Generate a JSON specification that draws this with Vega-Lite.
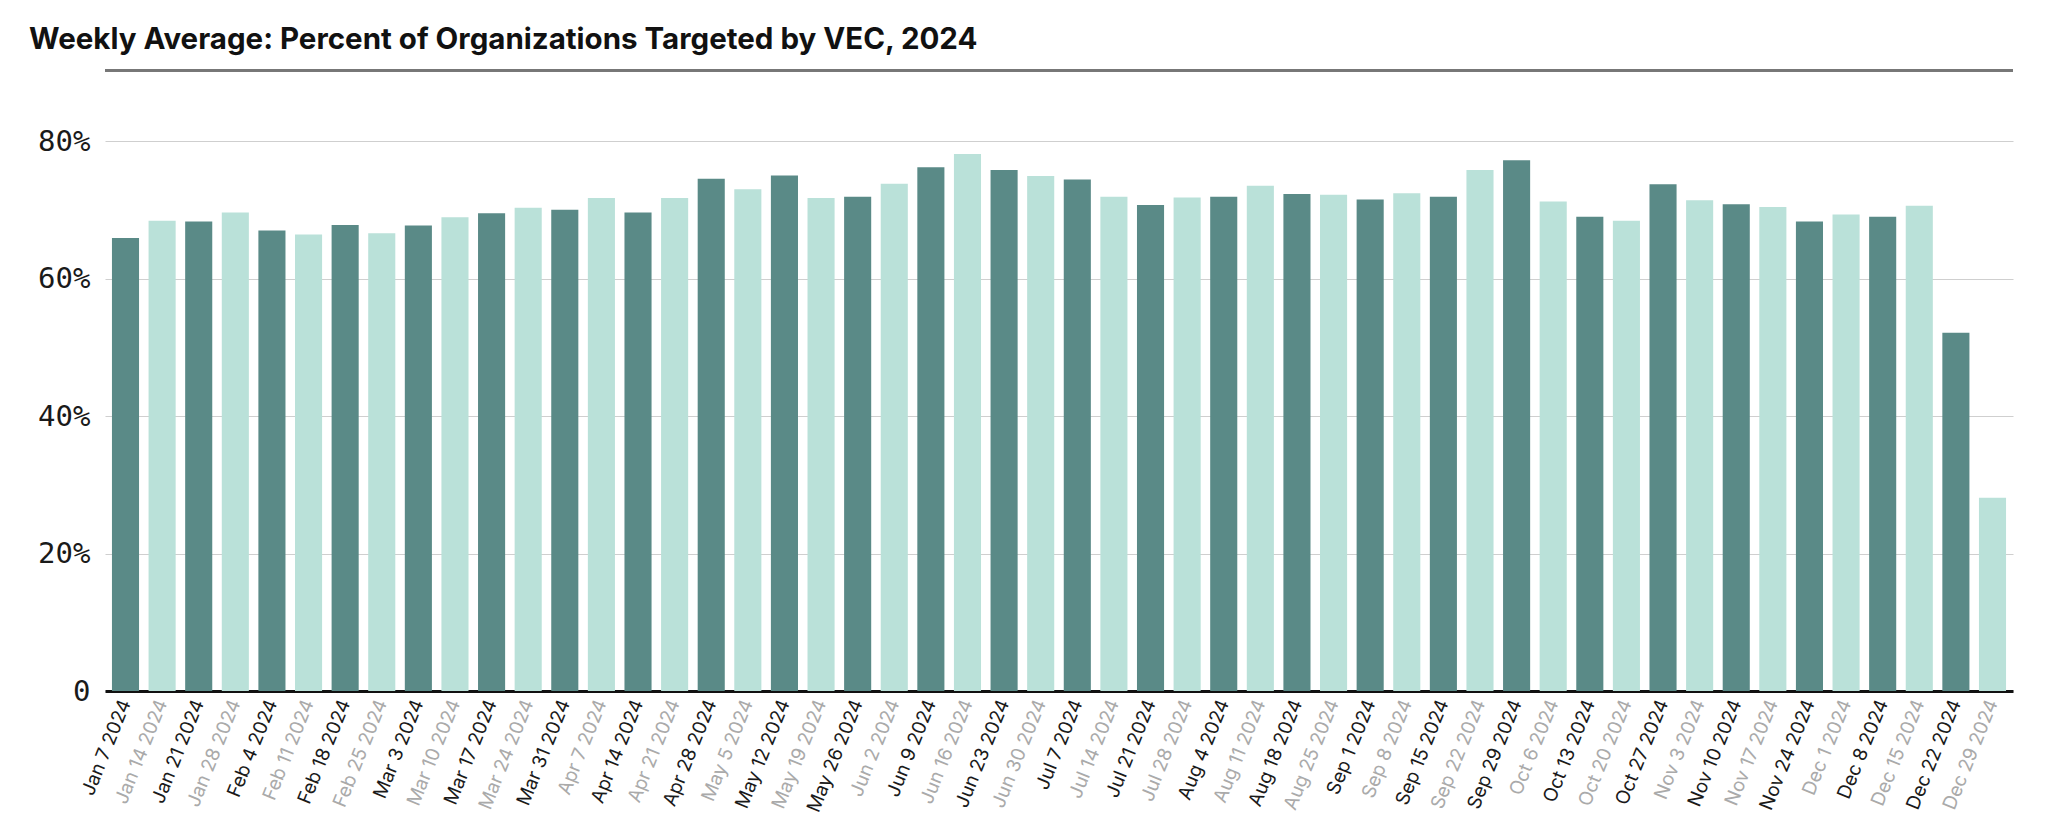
{
  "$schema": "https://vega.github.io/schema/vega-lite/v6.json",
  "autosize": {"type": "none"},
  "width": 1908,
  "height": 550,
  "padding": {"left": 105, "top": 141, "right": 35, "bottom": 141},
  "background": "#ffffff",
  "title": {
    "text": "Weekly Average: Percent of Organizations Targeted by VEC, 2024",
    "anchor": "start",
    "frame": "group",
    "dx": -76,
    "offset": 14,
    "font": "Inter",
    "fontSize": 29.5,
    "fontWeight": 700,
    "color": "#111111"
  },
  "data": {
    "values": [
      {"week": "Jan 7 2024", "pct": 0.659, "shade": "dark"},
      {"week": "Jan 14 2024", "pct": 0.684, "shade": "light"},
      {"week": "Jan 21 2024", "pct": 0.683, "shade": "dark"},
      {"week": "Jan 28 2024", "pct": 0.696, "shade": "light"},
      {"week": "Feb 4 2024", "pct": 0.670, "shade": "dark"},
      {"week": "Feb 11 2024", "pct": 0.664, "shade": "light"},
      {"week": "Feb 18 2024", "pct": 0.678, "shade": "dark"},
      {"week": "Feb 25 2024", "pct": 0.666, "shade": "light"},
      {"week": "Mar 3 2024", "pct": 0.677, "shade": "dark"},
      {"week": "Mar 10 2024", "pct": 0.689, "shade": "light"},
      {"week": "Mar 17 2024", "pct": 0.695, "shade": "dark"},
      {"week": "Mar 24 2024", "pct": 0.703, "shade": "light"},
      {"week": "Mar 31 2024", "pct": 0.700, "shade": "dark"},
      {"week": "Apr 7 2024", "pct": 0.717, "shade": "light"},
      {"week": "Apr 14 2024", "pct": 0.696, "shade": "dark"},
      {"week": "Apr 21 2024", "pct": 0.717, "shade": "light"},
      {"week": "Apr 28 2024", "pct": 0.745, "shade": "dark"},
      {"week": "May 5 2024", "pct": 0.730, "shade": "light"},
      {"week": "May 12 2024", "pct": 0.750, "shade": "dark"},
      {"week": "May 19 2024", "pct": 0.717, "shade": "light"},
      {"week": "May 26 2024", "pct": 0.719, "shade": "dark"},
      {"week": "Jun 2 2024", "pct": 0.738, "shade": "light"},
      {"week": "Jun 9 2024", "pct": 0.762, "shade": "dark"},
      {"week": "Jun 16 2024", "pct": 0.781, "shade": "light"},
      {"week": "Jun 23 2024", "pct": 0.758, "shade": "dark"},
      {"week": "Jun 30 2024", "pct": 0.749, "shade": "light"},
      {"week": "Jul 7 2024", "pct": 0.744, "shade": "dark"},
      {"week": "Jul 14 2024", "pct": 0.719, "shade": "light"},
      {"week": "Jul 21 2024", "pct": 0.707, "shade": "dark"},
      {"week": "Jul 28 2024", "pct": 0.718, "shade": "light"},
      {"week": "Aug 4 2024", "pct": 0.719, "shade": "dark"},
      {"week": "Aug 11 2024", "pct": 0.735, "shade": "light"},
      {"week": "Aug 18 2024", "pct": 0.723, "shade": "dark"},
      {"week": "Aug 25 2024", "pct": 0.722, "shade": "light"},
      {"week": "Sep 1 2024", "pct": 0.715, "shade": "dark"},
      {"week": "Sep 8 2024", "pct": 0.724, "shade": "light"},
      {"week": "Sep 15 2024", "pct": 0.719, "shade": "dark"},
      {"week": "Sep 22 2024", "pct": 0.758, "shade": "light"},
      {"week": "Sep 29 2024", "pct": 0.772, "shade": "dark"},
      {"week": "Oct 6 2024", "pct": 0.712, "shade": "light"},
      {"week": "Oct 13 2024", "pct": 0.690, "shade": "dark"},
      {"week": "Oct 20 2024", "pct": 0.684, "shade": "light"},
      {"week": "Oct 27 2024", "pct": 0.737, "shade": "dark"},
      {"week": "Nov 3 2024", "pct": 0.714, "shade": "light"},
      {"week": "Nov 10 2024", "pct": 0.708, "shade": "dark"},
      {"week": "Nov 17 2024", "pct": 0.704, "shade": "light"},
      {"week": "Nov 24 2024", "pct": 0.683, "shade": "dark"},
      {"week": "Dec 1 2024", "pct": 0.693, "shade": "light"},
      {"week": "Dec 8 2024", "pct": 0.690, "shade": "dark"},
      {"week": "Dec 15 2024", "pct": 0.706, "shade": "light"},
      {"week": "Dec 22 2024", "pct": 0.521, "shade": "dark"},
      {"week": "Dec 29 2024", "pct": 0.281, "shade": "light"}
    ]
  },
  "layer": [
    {
      "mark": {"type": "bar"},
      "encoding": {
        "x": {
          "field": "week",
          "type": "nominal",
          "sort": null,
          "title": null,
          "scale": {"paddingInner": 0.26, "paddingOuter": 0.19},
          "axis": {
            "labelAngle": -68,
            "labelFont": "Inter",
            "labelFontSize": 19,
            "labelPadding": 9,
            "labelColor": {"condition": {"test": "round(datum.index * 51) % 2 === 0", "value": "#1a1a1a"}, "value": "#aaaaaa"},
            "ticks": false,
            "domainColor": "#111111",
            "domainWidth": 3,
            "grid": false
          }
        },
        "y": {
          "field": "pct",
          "type": "quantitative",
          "title": null,
          "scale": {"domain": [0, 0.8], "nice": false},
          "axis": {
            "values": [0, 0.2, 0.4, 0.6, 0.8],
            "labelExpr": "datum.value === 0 ? '0' : format(datum.value, '.0%')",
            "labelFont": "DejaVu Sans Mono",
            "labelFontSize": 29,
            "labelColor": "#1a1a1a",
            "labelPadding": 15,
            "ticks": false,
            "domain": false,
            "grid": true,
            "gridColor": "#cfcfcf",
            "gridWidth": 1
          }
        },
        "color": {
          "field": "shade",
          "type": "nominal",
          "scale": {"domain": ["dark", "light"], "range": ["#5a8a87", "#bae1d9"]},
          "legend": null
        }
      }
    },
    {
      "mark": {"type": "rule", "color": "#777777", "strokeWidth": 2},
      "encoding": {"y": {"datum": 0.903}}
    }
  ],
  "config": {"view": {"stroke": null}}
}
